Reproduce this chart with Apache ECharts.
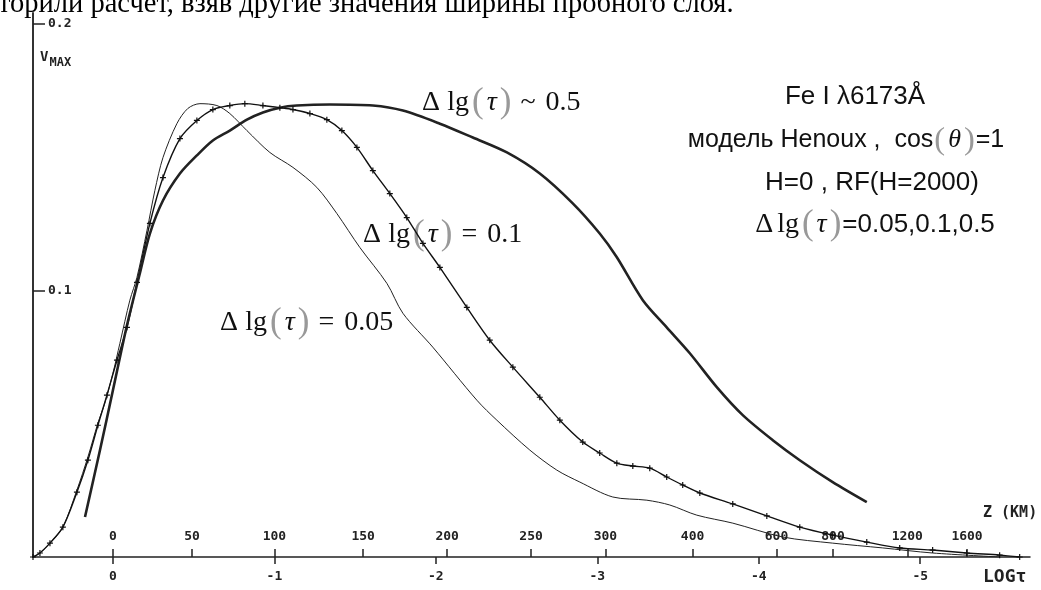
<!DOCTYPE html>
<html>
<head>
<meta charset="utf-8">
<title></title>
<script type="text/javascript" src="https://cdn.jsdelivr.net/npm/echarts@6/dist/echarts.min.js"></script>
</head>
<body style="margin:0;background:#fff;">
<div id="main" style="width:1041px;height:590px;"></div>
<script type="text/javascript">
// bottom scale: log tau ; top side of the same axis: Z (km)
var tauTicks = [0, -1, -2, -3, -4, -5];
var zTickPos = [0, -0.49, -1.0, -1.55, -2.07, -2.59, -3.05, -3.59, -4.11, -4.46, -4.92, -5.29];
var zTickLabels = ['0', '50', '100', '150', '200', '250', '300', '400', '600', '800', '1200', '1600'];
var vTicks = [0.1, 0.2];

// dlg(tau) = 0.05  (thin line)
var tau005 = [0.495, 0.452, 0.39, 0.31, 0.223, 0.155, 0.093, 0.05, 0, -0.043,
  -0.105, -0.149, -0.211, -0.26, -0.31, -0.396, -0.464, -0.539, -0.644, -0.724,
  -0.83, -0.972, -1.115, -1.263, -1.387, -1.529, -1.697, -1.796, -1.981, -2.254,
  -2.378, -2.582, -2.749, -2.892, -3.096, -3.307, -3.449, -3.616, -3.839, -4.149,
  -4.458, -4.768, -5.077, -5.492];
var v005 = [0, 0.0015, 0.0052, 0.0112, 0.0251, 0.0375, 0.0502, 0.0577, 0.0689, 0.0801,
  0.0963, 0.1049, 0.1225, 0.1375, 0.1498, 0.1625, 0.1682, 0.17, 0.1693, 0.1663,
  0.1599, 0.1517, 0.1461, 0.1386, 0.1288, 0.1161, 0.1026, 0.0914, 0.0787, 0.0588,
  0.0513, 0.0401, 0.0326, 0.0281, 0.0225, 0.0213, 0.0195, 0.0157, 0.0127, 0.0075,
  0.0052, 0.0034, 0.0015, 0];

// dlg(tau) = 0.1  (line with + marks)
var tau01 = [0.495, 0.452, 0.39, 0.31, 0.223, 0.155, 0.093, 0.037, -0.025, -0.087,
  -0.149, -0.229, -0.31, -0.415, -0.52, -0.619, -0.724, -0.817, -0.929, -1.034,
  -1.115, -1.22, -1.325, -1.418, -1.511, -1.61, -1.715, -1.82, -1.92, -2.025,
  -2.192, -2.334, -2.477, -2.644, -2.768, -2.91, -3.015, -3.121, -3.22, -3.325,
  -3.43, -3.529, -3.635, -3.839, -4.05, -4.254, -4.458, -4.669, -4.873, -5.077,
  -5.288, -5.492, -5.616];
var v01 = [0, 0.0015, 0.0052, 0.0112, 0.0243, 0.0363, 0.0494, 0.0607, 0.0738, 0.0861,
  0.103, 0.1251, 0.1423, 0.1569, 0.1637, 0.1678, 0.1693, 0.17, 0.1693, 0.1685,
  0.1678, 0.1663, 0.164, 0.1599, 0.1536, 0.1449, 0.1363, 0.1273, 0.1176, 0.1086,
  0.0936, 0.0813, 0.0712, 0.0599, 0.0513, 0.0431, 0.039, 0.0352, 0.0341, 0.0333,
  0.03, 0.027, 0.024, 0.0199, 0.0154, 0.0112, 0.0082, 0.0056, 0.0034, 0.0026,
  0.0015, 0.0007, 0];

// dlg(tau) ~ 0.5  (thick line)
var tau05 = [0.173, 0.08, 0, -0.087, -0.167, -0.229, -0.31, -0.415, -0.52, -0.619,
  -0.724, -0.83, -0.929, -1.034, -1.139, -1.344, -1.61, -1.796, -2.025, -2.229,
  -2.44, -2.644, -2.848, -3.015, -3.121, -3.282, -3.43, -3.573, -3.74, -3.901,
  -4.087, -4.254, -4.458, -4.669];
var v05 = [0.015, 0.0401, 0.0625, 0.0869, 0.1064, 0.1213, 0.1337, 0.1438, 0.1506, 0.1562,
  0.1599, 0.164, 0.1667, 0.1685, 0.1693, 0.1697, 0.1693, 0.1674, 0.1625, 0.1573,
  0.1517, 0.1438, 0.1326, 0.1213, 0.1124, 0.0963, 0.0861, 0.0764, 0.0637, 0.0532,
  0.0438, 0.0363, 0.0281, 0.0206];

function pairs(xs, ys) {
  var out = [];
  for (var i = 0; i < xs.length; i++) out.push([xs[i], ys[i]]);
  return out;
}

var plotFont = 'DejaVu Sans Mono';
var serif = 'Liberation Serif';
var sans = 'Liberation Sans';
var plus = 'path://M4,0H6V4H10V6H6V10H4V6H0V4H4Z';

// rich styles for the "Δlg(τ)" pieces (serif) and the plain sans text
var mathRich = function (size, sansSize) {
  return {
    d: { fontFamily: serif, fontSize: size, fill: '#111', padding: [0, 2] },
    e: { fontFamily: serif, fontSize: size, fill: '#111', padding: [0, 8] },
    t: { fontFamily: serif, fontSize: size, fontStyle: 'italic', fill: '#111', padding: [0, 2] },
    p: { fontFamily: serif, fontSize: size * 1.25, fill: '#999', padding: [0, 1] },
    s: { fontFamily: sans, fontSize: sansSize, fill: '#111' }
  };
};
var centerMid = { align: 'center', textAlign: 'center', verticalAlign: 'middle', textVerticalAlign: 'middle' };
function txt(x, y, style) {
  return { type: 'text', x: x, y: y, style: Object.assign({}, centerMid, style) };
}

var myChart = echarts.init(document.getElementById('main'));
var option = {
  animation: false,
  backgroundColor: '#fff',
  grid: { left: 33, right: 11, top: 13, bottom: 33 },
  xAxis: [
    {
      type: 'value', inverse: true, min: -5.68, max: 0.495,
      splitLine: { show: false },
      axisLine: { onZero: false, lineStyle: { color: '#222', width: 1.5 } },
      axisTick: { customValues: tauTicks, length: 7, lineStyle: { color: '#222', width: 1.5 } },
      axisLabel: {
        customValues: tauTicks, margin: 13, color: '#222',
        fontFamily: plotFont, fontWeight: 'bold', fontSize: 13,
        formatter: function (v) { return String(v); }
      }
    },
    {
      type: 'value', inverse: true, min: -5.68, max: 0.495, position: 'bottom',
      splitLine: { show: false },
      axisLine: { show: false, onZero: false },
      axisTick: { customValues: zTickPos, inside: true, length: 8, lineStyle: { color: '#222', width: 1.5 } },
      axisLabel: {
        customValues: zTickPos, inside: true, margin: 14, color: '#222',
        fontFamily: plotFont, fontWeight: 'bold', fontSize: 13,
        formatter: function (v) { return zTickLabels[zTickPos.indexOf(v)]; }
      }
    }
  ],
  yAxis: {
    type: 'value', min: 0, max: 0.204,
    splitLine: { show: false },
    axisLine: { show: true, onZero: false, lineStyle: { color: '#333', width: 2 } },
    axisTick: { customValues: vTicks, inside: true, length: 12, lineStyle: { color: '#222', width: 1.5 } },
    axisLabel: {
      customValues: vTicks, inside: true, margin: 15, color: '#222',
      fontFamily: plotFont, fontWeight: 'bold', fontSize: 13,
      formatter: function (v) { return v.toFixed(1); }
    }
  },
  series: [
    {
      name: '0.05', type: 'line', data: pairs(tau005, v005), smooth: 0.3,
      showSymbol: false, lineStyle: { color: '#222', width: 1 }
    },
    {
      name: '0.1', type: 'line', data: pairs(tau01, v01), smooth: 0.3,
      symbol: plus, symbolSize: 6, itemStyle: { color: '#111' },
      lineStyle: { color: '#111', width: 1.4 }
    },
    {
      name: '0.5', type: 'line', data: pairs(tau05, v05), smooth: 0.3,
      showSymbol: false, lineStyle: { color: '#222', width: 2.6 }
    }
  ],
  graphic: [
    // page text cut at the top of the screenshot
    { type: 'text', x: -2, y: 5, style: { text: 'торили расчет, взяв другие значения ширины пробного слоя.',
      font: '28.5px "Liberation Serif"', fill: '#000', verticalAlign: 'middle', textVerticalAlign: 'middle' } },
    { type: 'text', x: 40, y: 46, style: { text: '{v|V}{m|MAX}',
      rich: { v: { fontFamily: plotFont, fontWeight: 'bold', fontSize: 14, fill: '#222' },
              m: { fontFamily: plotFont, fontWeight: 'bold', fontSize: 12, fill: '#222', padding: [11, 0, 0, 1] } } } },
    { type: 'text', x: 983, y: 506, style: { text: 'Z (KM)', font: 'bold 15px "DejaVu Sans Mono"', fill: '#222' } },
    { type: 'text', x: 983, y: 568, style: { text: 'LOGτ', font: 'bold 18px "DejaVu Sans Mono"', fill: '#222' } },

    // curve labels
    { type: 'text', x: 420, y: 103, style: { text: '{d|Δ} {d|lg}{p|(}{t|τ}{p|)}{e|~}{d|0.5}', rich: mathRich(28, 26),
      verticalAlign: 'middle', textVerticalAlign: 'middle' } },
    { type: 'text', x: 361, y: 235, style: { text: '{d|Δ} {d|lg}{p|(}{t|τ}{p|)}{e|=}{d|0.1}', rich: mathRich(28, 26),
      verticalAlign: 'middle', textVerticalAlign: 'middle' } },
    { type: 'text', x: 218, y: 323, style: { text: '{d|Δ} {d|lg}{p|(}{t|τ}{p|)}{e|=}{d|0.05}', rich: mathRich(28, 26),
      verticalAlign: 'middle', textVerticalAlign: 'middle' } },

    // right hand legend block
    txt(855, 97, { text: 'Fe I λ6173Å', font: '26px "Liberation Sans"', fill: '#111' }),
    txt(846, 140, { text: '{s|модель Henoux ,  cos}{p|(}{t|θ}{p|)}{s|=1}', rich: mathRich(26, 25) }),
    txt(872, 183, { text: 'H=0 , RF(H=2000)', font: '26px "Liberation Sans"', fill: '#111' }),
    txt(874, 225, { text: '{d|Δ}{d|lg}{p|(}{t|τ}{p|)}{s|=0.05,0.1,0.5}', rich: mathRich(28, 26) })
  ]
};
myChart.setOption(option);
</script>
</body>
</html>
